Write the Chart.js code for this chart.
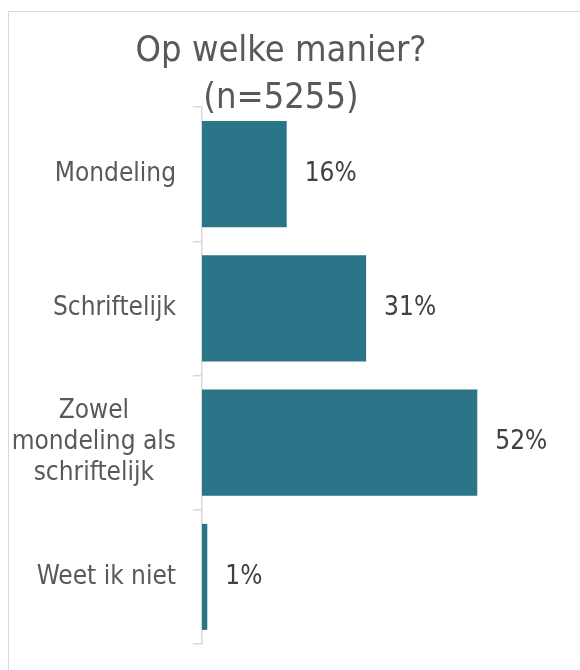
<!DOCTYPE html>
<html>
<head>
<meta charset="utf-8">
<script src="https://cdn.jsdelivr.net/npm/chart.js@4.4.1/dist/chart.umd.min.js"></script>
<style>
  html, body { margin: 0; background: #fff; overflow: hidden; }
  #kader { position: absolute; left: 8px; top: 11px; width: 600px; height: 700px; border: 1.5px solid #d9d9d9; }
  #wrap { position: absolute; left: 0; top: 0; width: 580px; height: 670px; }
</style>
</head>
<body>
<div id="kader"></div>
<div id="wrap"><canvas id="grafiek"></canvas></div>
<script>
const titel = ['Op welke manier?', '(n=5255)'];
const categorieen = ['Mondeling', 'Schriftelijk', ['Zowel', 'mondeling als', 'schriftelijk'], 'Weet ik niet'];
const percentages = [16, 31, 52, 1];

const FONT = "'DejaVu Sans Condensed', 'DejaVu Sans', sans-serif";

// labels links van de as en waarden naast de balken
const labelsPlugin = {
    id: 'labelsPlugin',
    afterDatasetsDraw(chart) {
        const ctx = chart.ctx;
        const yScale = chart.scales.y;
        const meta = chart.getDatasetMeta(0);
        const rechts = chart.chartArea.left - 26;

        ctx.save();
        ctx.font = '26px ' + FONT;
        ctx.textBaseline = 'middle';

        categorieen.forEach((cat, i) => {
            const regels = Array.isArray(cat) ? cat : [cat];
            const breedste = Math.max(...regels.map(r => ctx.measureText(r).width));
            const midden = yScale.getPixelForValue(i);
            const regelHoogte = 31;
            ctx.fillStyle = '#595959';
            ctx.textAlign = 'center';
            regels.forEach((r, j) => {
                const y = midden + (j - (regels.length - 1) / 2) * regelHoogte;
                ctx.fillText(r, rechts - breedste / 2, y);
            });
        });

        meta.data.forEach((bar, i) => {
            ctx.fillStyle = '#404040';
            ctx.textAlign = 'left';
            ctx.fillText(percentages[i] + '%', bar.x + 18, bar.y);
        });
        ctx.restore();
    }
};

new Chart(document.getElementById('grafiek'), {
    type: 'bar',
    data: {
        labels: categorieen,
        datasets: [{
            data: percentages,
            backgroundColor: '#2a7588',
            borderWidth: 0,
            barPercentage: 0.79,
            categoryPercentage: 1
        }]
    },
    options: {
        indexAxis: 'y',
        responsive: true,
        maintainAspectRatio: false,
        animation: false,
        layout: { padding: { top: 0, right: 18, bottom: 26, left: 0 } },
        plugins: {
            legend: { display: false },
            tooltip: { enabled: false },
            title: {
                display: true,
                text: titel,
                color: '#595959',
                font: { family: FONT, size: 36, weight: 'normal', lineHeight: 47 / 36 },
                padding: { top: 28.5, bottom: -15.5 }
            }
        },
        scales: {
            x: { display: false, min: 0, max: 68 },
            y: {
                afterFit: (scale) => { scale.width = 202; },
                ticks: { display: false },
                grid: { drawOnChartArea: false, tickLength: 9, color: '#d9d9d9', lineWidth: 1.5 },
                border: { color: '#d9d9d9', width: 1.5 }
            }
        }
    },
    plugins: [labelsPlugin]
});
</script>
</body>
</html>
